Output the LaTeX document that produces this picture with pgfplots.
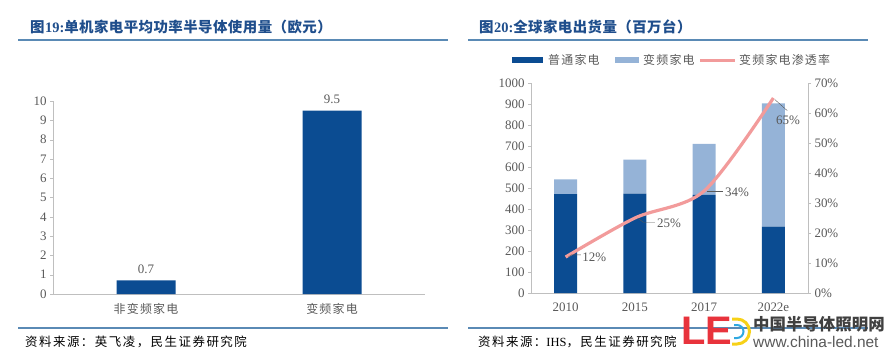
\documentclass[border=0pt]{standalone}
\usepackage{fontspec}
\usepackage{pgfplots}
\pgfplotsset{compat=1.18}
\setmainfont{Liberation Serif}
\newfontfamily\cjk{Noto Sans CJK SC}
\newfontfamily\lsans{Liberation Sans}
\definecolor{darkblue}{HTML}{0B4C92}
\definecolor{lightblue}{HTML}{95B3D7}
\definecolor{titleblue}{HTML}{1F4E8C}
\definecolor{rulecol}{HTML}{5A8AB5}
\definecolor{txtgray}{HTML}{595959}
\definecolor{axgray}{HTML}{BFBFBF}
\definecolor{linepink}{HTML}{F29B9B}
\definecolor{logored}{HTML}{E8333C}
\definecolor{logoyellow}{HTML}{F7D117}
\definecolor{logoblue}{HTML}{2FA8E0}
\pgfplotsset{
  common/.style={
    scale only axis,
    axis line style={draw=axgray},
    tick style={draw=axgray},
    tick align=outside,
    major tick length=3bp,
    ticklabel style={text=txtgray, font=\fontsize{13}{13}\selectfont},
    /pgf/number format/assume math mode=true,
    /pgf/number format/1000 sep={},
    clip=false,
  }
}
\begin{document}
\begin{tikzpicture}[x=1bp,y=1bp]
\useasboundingbox (0,0) rectangle (894,359);
% titles
\node[anchor=west, inner sep=0, text=titleblue, font=\fontsize{14.5}{14.5}\selectfont] at (30,332) {{\cjk\bfseries\addfontfeature{LetterSpace=3} 图}\textbf{19:}{\cjk\bfseries\addfontfeature{LetterSpace=3}单机家电平均功率半导体使用量（欧元）}};
\node[anchor=west, inner sep=0, text=titleblue, font=\fontsize{14.5}{14.5}\selectfont] at (479,332) {{\cjk\bfseries\addfontfeature{LetterSpace=3}图}\textbf{20:}{\cjk\bfseries\addfontfeature{LetterSpace=3}全球家电出货量（百万台）}};
\draw[rulecol, line width=1.2bp] (18,319) -- (448,319);
\draw[rulecol, line width=1.2bp] (468,319) -- (868,319);
\draw[rulecol, line width=1.2bp] (18,31) -- (448,31);
\draw[rulecol, line width=1.2bp] (468,31) -- (868,31);
% footers
\node[anchor=west, inner sep=0, text=black, font=\fontsize{12.5}{12.5}\selectfont] at (25,17) {\cjk\addfontfeature{LetterSpace=12}资料来源：英飞凌，民生证券研究院};
\node[anchor=west, inner sep=0, text=black, font=\fontsize{12.5}{12.5}\selectfont] at (478,17) {{\cjk\addfontfeature{LetterSpace=12}资料来源：}IHS{\cjk\addfontfeature{LetterSpace=12}，民生证券研究院}};

% left chart
\begin{axis}[common,
  at={(53bp,65bp)}, anchor=south west,
  width=372bp, height=193bp,
  xmin=-0.5, xmax=1.5, ymin=0, ymax=10,
  axis x line*=bottom, axis y line*=left,
  ytick={0,1,...,10},
  xtick={0,1}, xticklabels={非变频家电,变频家电},
  xticklabel style={font=\cjk\fontsize{12}{12}\selectfont\addfontfeature{LetterSpace=10}, yshift=-3bp},
  x tick style={draw=none},
  ybar, bar width=59bp,
  nodes near coords,
  every node near coord/.append style={text=txtgray, font=\fontsize{13}{13}\selectfont, yshift=3bp},
]
\addplot[fill=darkblue, draw=none] coordinates {(0,0.7) (1,9.5)};
\end{axis}

% right chart: bars
\begin{axis}[common,
  at={(531bp,66bp)}, anchor=south west,
  width=277bp, height=210bp,
  xmin=-0.5, xmax=3.5, ymin=0, ymax=1000,
  axis x line*=bottom, axis y line*=left,
  ytick={0,100,...,1000},
  xtick={0,1,2,3}, xticklabels={2010,2015,2017,2022e},
  xticklabel style={yshift=-3bp},
  x tick style={draw=none},
  ybar stacked, bar width=23bp,
]
\addplot[fill=darkblue, draw=none] coordinates {(0,471) (1,473) (2,467) (3,316)};
\addplot[fill=lightblue, draw=none] coordinates {(0,70) (1,162) (2,243) (3,587)};
\end{axis}

% right chart: line
\begin{axis}[common,
  at={(531bp,66bp)}, anchor=south west,
  width=277bp, height=210bp,
  xmin=-0.5, xmax=3.5, ymin=0, ymax=70,
  axis x line=none, axis y line*=right,
  ytick={0,10,...,70},
  yticklabel={\pgfmathprintnumber{\tick}\%},
]
\addplot[smooth, tension=0.5, color=linepink, line width=3.2bp] coordinates {(0,12) (1,25) (2,34) (3,65)};
\draw[txtgray, line width=0.4bp] (axis cs:0.04,12) -- (axis cs:0.08,12.7) -- (axis cs:0.22,12.7);
\node[anchor=west, inner sep=0, text=txtgray, font=\fontsize{13}{13}\selectfont] at (axis cs:0.24,12) {12\%};
\draw[txtgray, line width=0.4bp] (axis cs:1.04,25) -- (axis cs:1.12,23.6) -- (axis cs:1.29,23.6);
\node[anchor=west, inner sep=0, text=txtgray, font=\fontsize{13}{13}\selectfont] at (axis cs:1.32,23.3) {25\%};
\draw[txtgray, line width=0.4bp] (axis cs:2.04,34) -- (axis cs:2.27,34);
\node[anchor=west, inner sep=0, text=txtgray, font=\fontsize{13}{13}\selectfont] at (axis cs:2.30,33.7) {34\%};
\draw[txtgray, line width=0.4bp] (axis cs:3.02,64.5) -- (axis cs:3.2,60.8);
\node[anchor=center, inner sep=0, text=txtgray, font=\fontsize{13}{13}\selectfont] at (axis cs:3.21,57.7) {65\%};
\end{axis}

% legend
\fill[darkblue] (512,296) rectangle (543,302);
\node[anchor=west, inner sep=0, text=txtgray, font=\cjk\fontsize{12}{12}\selectfont\addfontfeature{LetterSpace=10}] at (548,299) {普通家电};
\fill[lightblue] (615,296) rectangle (639,302);
\node[anchor=west, inner sep=0, text=txtgray, font=\cjk\fontsize{12}{12}\selectfont\addfontfeature{LetterSpace=10}] at (643,299) {变频家电};
\draw[linepink, line width=3bp] (700,299) -- (735,299);
\node[anchor=west, inner sep=0, text=txtgray, font=\cjk\fontsize{12}{12}\selectfont\addfontfeature{LetterSpace=10}] at (739,299) {变频家电渗透率};

% watermark logo
\node[anchor=south west, inner sep=0, text=logored, font=\lsans\bfseries\fontsize{40}{40}\selectfont] at (681,14) {LE};
\draw[logoyellow, line width=3bp] (732,40) -- (737,40) arc[start angle=90, end angle=-90, radius=12.5] -- (732,15);
\draw[logoblue, line width=2bp] (734,34) -- (737,34) arc[start angle=90, end angle=-90, radius=6.5] -- (734,21);
\node[anchor=west, inner sep=0, text=black!75, font=\cjk\bfseries\fontsize{16.5}{16.5}\selectfont] at (753,35) {中国半导体照明网};
\node[anchor=west, inner sep=0, text=black!65, font=\lsans\fontsize{15.5}{15.5}\selectfont] at (753,17) {www.china-led.net};
\end{tikzpicture}
\end{document}
